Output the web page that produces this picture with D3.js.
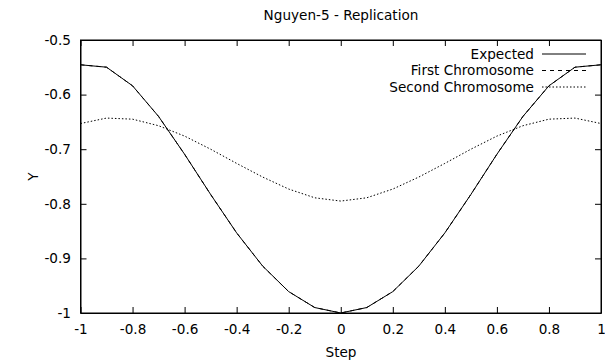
<!DOCTYPE html>
<html lang="en">
<head>
    <meta charset="UTF-8">
    <title>Nguyen-5 - Replication</title>
    <script src="https://d3js.org/d3.v7.min.js"></script>
    <style>
        body { margin: 0; background: #fff; }
        svg text { font-family: "DejaVu Sans", sans-serif; font-size: 13.6px; fill: #000; }
        .line { fill: none; stroke: #000; stroke-width: 1; }
    </style>
</head>
<body>
    <div id="chart"></div>
    <script>
        // step values
        const steps = [-1, -0.9, -0.8, -0.7, -0.6, -0.5, -0.4, -0.3, -0.2, -0.1, 0,
                       0.1, 0.2, 0.3, 0.4, 0.5, 0.6, 0.7, 0.8, 0.9, 1];
        const expected = [-0.5454, -0.5498, -0.5839, -0.6400, -0.7093, -0.7829, -0.8533, -0.9141, -0.9608, -0.9900, -1,
                          -0.9900, -0.9608, -0.9141, -0.8533, -0.7829, -0.7093, -0.6400, -0.5839, -0.5498, -0.5454];
        const firstChromosome = [-0.5454, -0.5498, -0.5839, -0.6400, -0.7093, -0.7829, -0.8533, -0.9141, -0.9608, -0.9900, -1,
                                 -0.9900, -0.9608, -0.9141, -0.8533, -0.7829, -0.7093, -0.6400, -0.5839, -0.5498, -0.5454];
        const secondChromosome = [-0.653, -0.643, -0.645, -0.657, -0.676, -0.700, -0.726, -0.751, -0.773, -0.789, -0.795,
                                  -0.789, -0.773, -0.751, -0.726, -0.700, -0.676, -0.657, -0.645, -0.643, -0.653];
        const xTicks = [-1, -0.8, -0.6, -0.4, -0.2, 0, 0.2, 0.4, 0.6, 0.8, 1];
        const yTicks = [-1, -0.9, -0.8, -0.7, -0.6, -0.5];

        const width = 605, height = 363;
        const m = { left: 80.5, right: 601, top: 40, bottom: 313 };

        const svg = d3.select("#chart").append("svg")
            .attr("width", width)
            .attr("height", height);

        const x = d3.scaleLinear().domain([-1, 1]).range([m.left, m.right]);
        const y = d3.scaleLinear().domain([-1, -0.5]).range([m.bottom, m.top]);

        const fmt = d => String(+d.toFixed(1));

        // axes with inward ticks on all four sides
        const tl = 6;
        svg.append("g").attr("transform", `translate(0,${m.bottom})`)
            .call(d3.axisBottom(x).tickValues(xTicks).tickSizeInner(-tl).tickSizeOuter(0).tickPadding(11).tickFormat(fmt));
        svg.append("g").attr("transform", `translate(0,${m.top})`)
            .call(d3.axisTop(x).tickValues(xTicks).tickSizeInner(-tl).tickSizeOuter(0).tickFormat(""));
        svg.append("g").attr("transform", `translate(${m.left},0)`)
            .call(d3.axisLeft(y).tickValues(yTicks).tickSizeInner(-tl).tickSizeOuter(0).tickPadding(9.5).tickFormat(fmt));
        svg.append("g").attr("transform", `translate(${m.right},0)`)
            .call(d3.axisRight(y).tickValues(yTicks).tickSizeInner(-tl).tickSizeOuter(0).tickFormat(""));

        svg.selectAll(".domain").attr("stroke", "#000");
        svg.selectAll(".tick line").attr("stroke", "#000");
        svg.selectAll(".tick text").attr("font-family", "DejaVu Sans").attr("font-size", 13.6).attr("fill", "#000");

        // frame
        svg.append("rect")
            .attr("x", m.left).attr("y", m.top)
            .attr("width", m.right - m.left).attr("height", m.bottom - m.top)
            .attr("fill", "none").attr("stroke", "#000").attr("stroke-width", 1);

        const series = [
            { name: "Expected", values: expected, dash: null },
            { name: "First Chromosome", values: firstChromosome, dash: "4,4" },
            { name: "Second Chromosome", values: secondChromosome, dash: "1.5,2" }
        ];

        const line = d3.line().x(d => x(d[0])).y(d => y(d[1]));

        svg.append("defs").append("clipPath").attr("id", "clip")
            .append("rect").attr("x", m.left).attr("y", m.top)
            .attr("width", m.right - m.left).attr("height", m.bottom - m.top);

        const plot = svg.append("g").attr("clip-path", "url(#clip)");

        series.forEach(s => {
            plot.append("path")
                .attr("class", "line")
                .attr("stroke-dasharray", s.dash)
                .attr("d", line(steps.map((v, i) => [v, s.values[i]])));
        });

        // legend
        const legend = svg.append("g");
        series.forEach((s, i) => {
            const ly = 54 + i * 16.5;
            legend.append("text")
                .attr("x", 534).attr("y", ly).attr("dy", "0.35em")
                .attr("text-anchor", "end")
                .text(s.name);
            legend.append("line")
                .attr("class", "line")
                .attr("x1", 542).attr("x2", 586)
                .attr("y1", ly).attr("y2", ly)
                .attr("stroke-dasharray", s.dash);
        });

        // titles
        svg.append("text").attr("x", 341).attr("y", 20).attr("text-anchor", "middle")
            .text("Nguyen-5 - Replication");
        svg.append("text").attr("x", 341).attr("y", 357).attr("text-anchor", "middle")
            .text("Step");
        svg.append("text")
            .attr("transform", `translate(38,${(m.top + m.bottom) / 2}) rotate(-90)`)
            .attr("text-anchor", "middle")
            .text("Y");
    </script>
</body>
</html>
